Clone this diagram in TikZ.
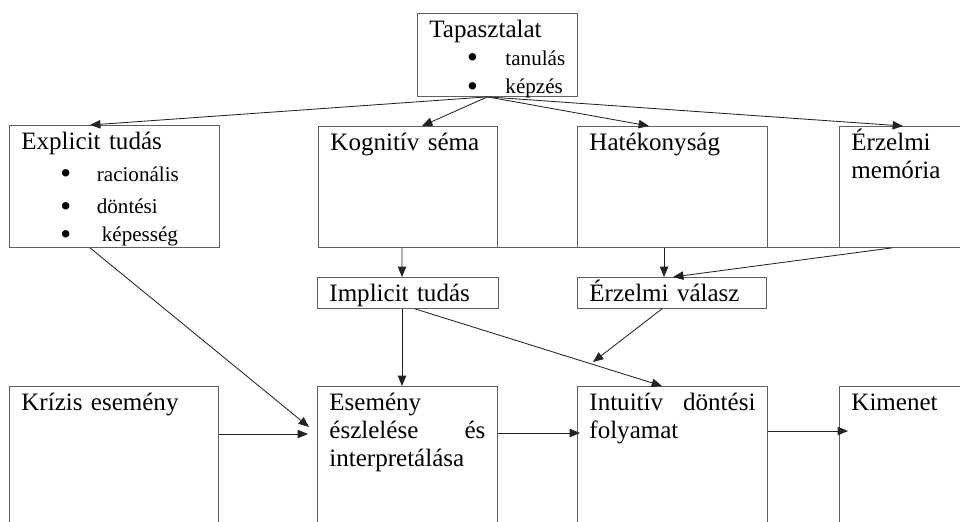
\documentclass[tikz,border=0pt]{standalone}
\usepackage{fontspec}
\setmainfont{Liberation Serif}
\usepackage{tikz}
\usetikzlibrary{arrows.meta,positioning}
\definecolor{boxgray}{RGB}{95,95,95}
\definecolor{linegray}{RGB}{35,35,35}
\newcommand{\nagy}{\fontsize{17.8}{20}\selectfont}
\newcommand{\kis}{\fontsize{15}{20}\selectfont}
\newcommand{\pont}{\raisebox{-0.06cm}{\fontsize{22}{20}\selectfont\textbullet}}
\tikzset{
  doboz/.style={draw=boxgray, line width=0.6pt, anchor=north west, inner xsep=0.3cm, inner ysep=0.15cm,
                text height=0.45cm, align=left, font=\nagy},
  nyil/.style={-{Triangle[length=2.6mm, width=2.1mm]}, line width=0.6pt, linegray},
}

\begin{document}
\begin{tikzpicture}[x=0.025cm, y=-0.025cm]
\clip (0,0) rectangle (960,521);

\node[doboz, text width=3.4cm, text depth=1.325cm] (tapasz) at (417,13) {Tapasztalat\\
  \hspace*{0.94cm}\pont\hspace*{0.69cm}{\kis tanulás}\\
  \hspace*{0.94cm}\pont\hspace*{0.69cm}{\kis képzés}};

\node[doboz, text width=4.65cm, text depth=2.3cm] (explicit) at (9,125) {Explicit tudás\\[0.1cm]
  \hspace*{0.975cm}\pont\hspace*{0.64cm}{\kis racionális}\\[0.1cm]
  \hspace*{0.975cm}\pont\hspace*{0.64cm}{\kis döntési}\\
  \hspace*{0.975cm}\pont\hspace*{0.765cm}{\kis képesség}};
\node[doboz, text width=3.875cm, text depth=2.275cm] (kognitiv) at (318,126) {Kognitív séma};
\node[doboz, text width=4.15cm, text depth=2.275cm] (hatekony) at (577,126) {Hatékonyság};
\node[doboz, text width=3.4cm, text depth=2.275cm] (erzmem) at (839,126) {Érzelmi\\ memória};
\draw[boxgray, line width=0.6pt] (kognitiv.south east) -- (hatekony.south west)
  (hatekony.south east) -- (erzmem.south west);

\node[doboz, text width=3.925cm, text depth=0.025cm] (implicit) at (317,277) {Implicit tudás};
\node[doboz, text width=4.125cm, text depth=0.025cm] (erzval) at (577,277) {Érzelmi válasz};

\node[doboz, text width=4.625cm, text depth=3.1cm] (krizis) at (9,386) {Krízis esemény};
\node[doboz, text width=3.9cm, text depth=3.1cm] (esemeny) at (317,386) {Esemény\\
  észlelése\hspace{\fill}és\\ interpretálása};
\node[doboz, text width=4.15cm, text depth=3.1cm] (intuitiv) at (577,386) {Intuitív\hspace{\fill}döntési\\ folyamat};
\node[doboz, text width=3.425cm, text depth=3.1cm] (kimenet) at (839,386) {Kimenet};

\coordinate (erzvalvege) at (593,362);

\foreach \cel/\eltol in {explicit/2.025cm, kognitiv/2.6cm, hatekony/1.8cm, erzmem/1.6cm}
  \draw[nyil] ([xshift=-0.25cm]tapasz.south) -- ([xshift=\eltol]\cel.north west);

\draw[nyil] ([xshift=2.1cm]kognitiv.south west) -- ([xshift=2.125cm]implicit.north west);
\draw[nyil] ([xshift=2.175cm]hatekony.south west) -- ([xshift=2.175cm]erzval.north west);
\draw[nyil] ([xshift=1.325cm]erzmem.south west) -- ([xshift=2.4cm]erzval.north west);
\draw[nyil] ([xshift=2.125cm]implicit.south west) -- ([xshift=2.125cm]esemeny.north west);
\draw[nyil] ([xshift=2.45cm]implicit.south west) -- ([xshift=2.125cm]intuitiv.north west);
\draw[nyil] ([xshift=2.125cm]erzval.south west) -- (erzvalvege);
\draw[nyil] ([xshift=2.025cm]explicit.south west) -- ([xshift=-0.2cm, yshift=-1.025cm]esemeny.north west);
\draw[nyil] ([yshift=-1.2cm]krizis.north east) -- ([xshift=-0.225cm, yshift=-1.2cm]esemeny.north west);
\draw[nyil] ([yshift=-1.175cm]esemeny.north east) -- ([xshift=0.075cm, yshift=-1.175cm]intuitiv.north west);
\draw[nyil] ([yshift=-1.125cm]intuitiv.north east) -- ([xshift=0.225cm, yshift=-1.125cm]kimenet.north west);
\end{tikzpicture}
\end{document}
